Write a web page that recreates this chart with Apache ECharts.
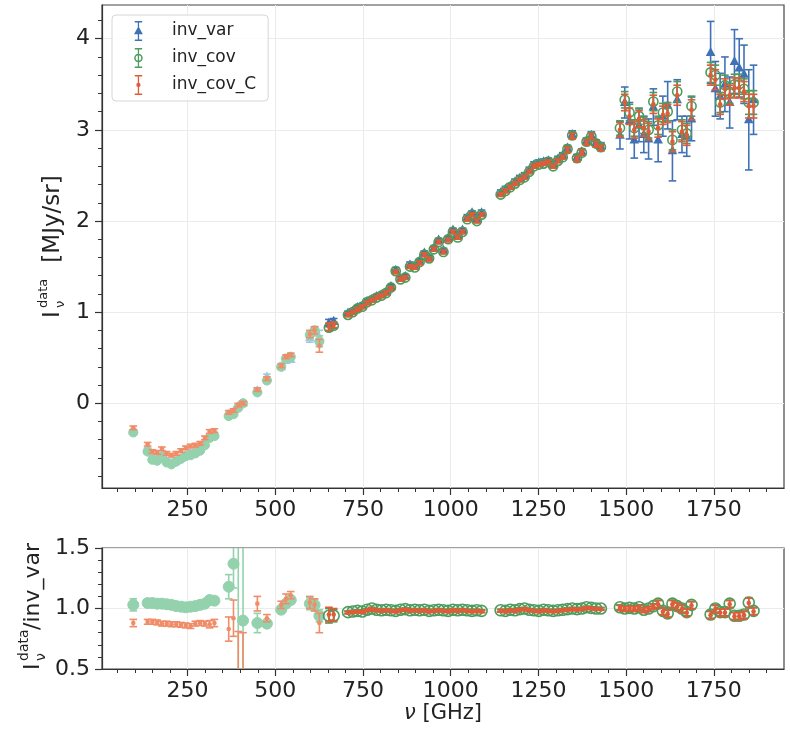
<!DOCTYPE html>
<html>
<head>
<meta charset="utf-8">
<script src="https://cdn.jsdelivr.net/npm/echarts@6/dist/echarts.min.js"></script>
<style>
html, body { margin: 0; padding: 0; background: #fff; }
#chart { width: 790px; height: 734px; }
</style>
</head>
<body>
<div id="chart"></div>
<script>
// frequencies [GHz]
const freq = [
  95.2, 136.0, 149.6, 163.2, 176.8, 190.4, 204.0, 217.6, 231.2, 244.8, 258.4, 272.0, 285.6, 299.2, 312.8, 326.4,
  367.2, 380.8, 394.4, 408.0,
  448.8, 476.0, 516.8, 530.4, 544.0, 598.4, 612.0, 625.6, 652.8, 666.4,
  707.2, 720.8, 734.4, 748.0, 761.6, 775.2, 788.8, 802.4, 816.0, 829.6, 843.2, 856.8, 870.4, 884.0, 897.6,
  911.2, 924.8, 938.4, 952.0, 965.6, 979.2, 992.8, 1006.4, 1020.0, 1033.6, 1047.2, 1060.8, 1074.4, 1088.0,
  1142.4, 1156.0, 1169.6, 1183.2, 1196.8, 1210.4, 1224.0, 1237.6, 1251.2, 1264.8, 1278.4, 1292.0, 1305.6,
  1319.2, 1332.8, 1346.4, 1360.0, 1373.6, 1387.2, 1400.8, 1414.4, 1428.0,
  1482.4, 1496.0, 1509.6, 1523.2, 1536.8, 1550.4, 1564.0, 1577.6, 1591.2, 1604.8, 1618.4, 1632.0, 1645.6,
  1659.2, 1672.8, 1686.4,
  1740.8, 1754.4, 1768.0, 1781.6, 1795.2, 1808.8, 1822.4, 1836.0, 1849.6, 1863.2
];

// top panel: I_nu [MJy/sr]
const invVar = [
  -0.31, -0.51, -0.60, -0.61, -0.57, -0.63, -0.66, -0.63, -0.60, -0.57, -0.55, -0.53, -0.50, -0.44, -0.36, -0.34,
  -0.12, -0.09, -0.03, 0.00,
  0.14, 0.29, 0.40, 0.47, 0.48, 0.72, 0.78, 0.72, 0.88, 0.90,
  0.99, 1.01, 1.05, 1.07, 1.12, 1.14, 1.17, 1.19, 1.22, 1.28, 1.46, 1.37, 1.39, 1.52, 1.50,
  1.56, 1.65, 1.60, 1.70, 1.79, 1.68, 1.81, 1.90, 1.84, 1.90, 2.04, 2.09, 2.02, 2.09,
  2.31, 2.35, 2.38, 2.43, 2.47, 2.50, 2.56, 2.62, 2.64, 2.65, 2.66, 2.62, 2.68,
  2.72, 2.80, 2.95, 2.70, 2.76, 2.88, 2.94, 2.86, 2.82,
  2.94, 3.30, 3.10, 2.89, 3.05, 2.95, 2.90, 3.25, 2.89, 3.15, 3.27, 2.77, 3.33,
  2.95, 2.93, 3.12,
  3.85, 3.45, 3.37, 3.50, 3.30, 3.75, 3.68, 3.61, 3.11, 3.33
];
const invVarErr = [
  0.02, 0.02, 0.02, 0.02, 0.02, 0.02, 0.02, 0.02, 0.02, 0.02, 0.02, 0.02, 0.02, 0.02, 0.02, 0.02,
  0.02, 0.02, 0.02, 0.02,
  0.02, 0.03, 0.02, 0.02, 0.02, 0.05, 0.04, 0.08, 0.04, 0.03,
  0.02, 0.02, 0.02, 0.02, 0.02, 0.02, 0.02, 0.02, 0.02, 0.02, 0.03, 0.02, 0.02, 0.03, 0.02,
  0.02, 0.02, 0.02, 0.02, 0.02, 0.02, 0.02, 0.02, 0.02, 0.02, 0.03, 0.02, 0.02, 0.03,
  0.03, 0.03, 0.03, 0.03, 0.03, 0.03, 0.03, 0.03, 0.03, 0.03, 0.03, 0.03, 0.03,
  0.03, 0.03, 0.04, 0.03, 0.03, 0.03, 0.04, 0.03, 0.04,
  0.15, 0.17, 0.20, 0.20, 0.18, 0.20, 0.22, 0.20, 0.24, 0.22, 0.26, 0.33, 0.22,
  0.20, 0.22, 0.24,
  0.34, 0.30, 0.25, 0.30, 0.28, 0.35, 0.32, 0.32, 0.55, 0.38
];
const invCov = [
  -0.32, -0.53, -0.62, -0.63, -0.59, -0.65, -0.67, -0.64, -0.61, -0.58, -0.57, -0.55, -0.52, -0.46, -0.38, -0.36,
  -0.14, -0.12, -0.05, 0.00,
  0.12, 0.25, 0.40, 0.49, 0.51, 0.75, 0.80, 0.68, 0.83, 0.85,
  0.97, 1.00, 1.04, 1.06, 1.11, 1.13, 1.16, 1.18, 1.21, 1.27, 1.45, 1.36, 1.38, 1.50, 1.49,
  1.55, 1.63, 1.59, 1.69, 1.77, 1.66, 1.80, 1.88, 1.82, 1.88, 2.02, 2.07, 2.00, 2.07,
  2.29, 2.33, 2.37, 2.41, 2.45, 2.48, 2.54, 2.60, 2.62, 2.63, 2.65, 2.60, 2.66,
  2.70, 2.79, 2.94, 2.69, 2.75, 2.87, 2.93, 2.85, 2.81,
  3.02, 3.33, 3.19, 3.02, 3.15, 3.05, 3.00, 3.31, 3.05, 3.19, 3.20, 2.89, 3.42,
  3.00, 2.96, 3.26,
  3.63, 3.60, 3.30, 3.49, 3.40, 3.50, 3.50, 3.45, 3.30, 3.30
];
const invCovErr = [
  0.02, 0.02, 0.02, 0.02, 0.02, 0.02, 0.02, 0.02, 0.02, 0.02, 0.02, 0.02, 0.02, 0.02, 0.02, 0.02,
  0.02, 0.02, 0.02, 0.02,
  0.02, 0.02, 0.02, 0.02, 0.02, 0.04, 0.04, 0.06, 0.04, 0.03,
  0.02, 0.02, 0.02, 0.02, 0.02, 0.02, 0.02, 0.02, 0.02, 0.02, 0.02, 0.02, 0.02, 0.02, 0.02,
  0.02, 0.02, 0.02, 0.02, 0.02, 0.02, 0.02, 0.02, 0.02, 0.02, 0.02, 0.02, 0.02, 0.02,
  0.02, 0.02, 0.02, 0.02, 0.02, 0.02, 0.02, 0.02, 0.02, 0.02, 0.02, 0.02, 0.02,
  0.02, 0.03, 0.03, 0.03, 0.03, 0.03, 0.03, 0.03, 0.03,
  0.08, 0.09, 0.09, 0.09, 0.09, 0.09, 0.09, 0.10, 0.10, 0.10, 0.10, 0.11, 0.11,
  0.11, 0.11, 0.11,
  0.11, 0.11, 0.11, 0.11, 0.11, 0.11, 0.11, 0.11, 0.13, 0.13
];
const invCovC = [
  -0.27, -0.45, -0.53, -0.54, -0.50, -0.55, -0.57, -0.55, -0.52, -0.49, -0.47, -0.46, -0.44, -0.38, -0.31, -0.30,
  -0.10, -0.08, -0.02, 0.00,
  0.15, 0.27, 0.41, 0.51, 0.53, 0.76, 0.80, 0.63, 0.84, 0.86,
  0.97, 1.00, 1.03, 1.06, 1.10, 1.13, 1.16, 1.18, 1.21, 1.26, 1.44, 1.36, 1.38, 1.50, 1.49,
  1.54, 1.63, 1.58, 1.69, 1.77, 1.66, 1.79, 1.88, 1.82, 1.88, 2.02, 2.07, 2.00, 2.07,
  2.29, 2.33, 2.37, 2.41, 2.45, 2.48, 2.54, 2.60, 2.62, 2.63, 2.65, 2.60, 2.66,
  2.70, 2.78, 2.93, 2.68, 2.75, 2.86, 2.93, 2.84, 2.80,
  3.00, 3.30, 3.15, 3.00, 3.12, 3.02, 2.98, 3.28, 3.02, 3.16, 3.18, 2.87, 3.38,
  2.98, 2.94, 3.22,
  3.60, 3.55, 3.28, 3.45, 3.38, 3.46, 3.46, 3.42, 3.26, 3.26
];
const invCovCErr = [
  0.02, 0.02, 0.02, 0.02, 0.02, 0.02, 0.02, 0.02, 0.02, 0.02, 0.02, 0.02, 0.02, 0.02, 0.02, 0.02,
  0.02, 0.02, 0.02, 0.02,
  0.02, 0.02, 0.02, 0.02, 0.02, 0.04, 0.04, 0.07, 0.04, 0.03,
  0.02, 0.02, 0.02, 0.02, 0.02, 0.02, 0.02, 0.02, 0.02, 0.02, 0.02, 0.02, 0.02, 0.02, 0.02,
  0.02, 0.02, 0.02, 0.02, 0.02, 0.02, 0.02, 0.02, 0.02, 0.02, 0.02, 0.02, 0.02, 0.02,
  0.02, 0.02, 0.02, 0.02, 0.02, 0.02, 0.02, 0.02, 0.02, 0.02, 0.02, 0.02, 0.02,
  0.02, 0.03, 0.03, 0.03, 0.03, 0.03, 0.03, 0.03, 0.03,
  0.08, 0.09, 0.09, 0.09, 0.09, 0.09, 0.09, 0.10, 0.10, 0.10, 0.10, 0.11, 0.11,
  0.11, 0.11, 0.11,
  0.11, 0.11, 0.11, 0.11, 0.11, 0.11, 0.11, 0.11, 0.13, 0.13
];

// bottom panel: ratio to inv_var
const ratioCov = [
  1.03, 1.045, 1.045, 1.04, 1.04, 1.035, 1.03, 1.02, 1.015, 1.01, 1.015, 1.02, 1.03, 1.04, 1.07, 1.065,
  1.18, 1.37, 1.80, 0.90,
  0.88, 0.875, 0.99, 1.04, 1.07, 1.04, 1.03, 0.94, 0.94, 0.94,
  0.97, 0.975, 0.98, 0.975, 0.99, 1.00, 0.99, 0.985, 0.99, 0.985, 0.98, 0.99, 0.995, 0.985, 0.99,
  0.985, 0.99, 0.98, 0.985, 0.99, 0.985, 0.98, 0.99, 0.985, 0.99, 0.985, 0.98, 0.985, 0.98,
  0.985, 0.98, 0.99, 0.985, 0.995, 1.00, 0.99, 0.985, 0.98, 0.99, 0.985, 0.98, 0.985,
  0.99, 0.995, 1.00, 0.995, 1.00, 1.01, 1.005, 1.00, 1.00,
  1.01, 1.00, 1.005, 1.00, 1.01, 0.99, 1.00, 1.02, 1.04, 0.98, 0.96, 1.04, 1.02,
  1.00, 0.97, 1.03,
  0.95, 1.00, 0.97, 0.97, 1.04, 0.94, 0.94, 0.95, 1.05, 0.98
];
const ratioCovErr = [
  0.05, 0.02, 0.02, 0.02, 0.02, 0.02, 0.02, 0.02, 0.02, 0.02, 0.02, 0.02, 0.02, 0.02, 0.03, 0.03,
  0.10, 0.20, 1.50, 2.00,
  0.08, 0.03, 0.03, 0.03, 0.03, 0.05, 0.05, 0.05, 0.06, 0.05,
  0.01, 0.01, 0.01, 0.01, 0.01, 0.01, 0.01, 0.01, 0.01, 0.01, 0.01, 0.01, 0.01, 0.01, 0.01,
  0.01, 0.01, 0.01, 0.01, 0.01, 0.01, 0.01, 0.01, 0.01, 0.01, 0.01, 0.01, 0.01, 0.01,
  0.01, 0.01, 0.01, 0.01, 0.01, 0.01, 0.01, 0.01, 0.01, 0.01, 0.01, 0.01, 0.01,
  0.01, 0.01, 0.01, 0.01, 0.01, 0.01, 0.01, 0.01, 0.01,
  0.02, 0.02, 0.02, 0.02, 0.02, 0.02, 0.02, 0.02, 0.03, 0.03, 0.03, 0.03, 0.03,
  0.03, 0.03, 0.03,
  0.03, 0.03, 0.03, 0.03, 0.03, 0.03, 0.03, 0.03, 0.04, 0.03
];
const ratioCovC = [
  0.88, 0.89, 0.89, 0.885, 0.875, 0.875, 0.87, 0.87, 0.865, 0.86, 0.855, 0.875, 0.88, 0.875, 0.87, 0.88,
  0.83, 0.92, 0.45, 0.40,
  1.04, 0.92, 1.03, 1.08, 1.11, 1.05, 1.03, 0.88, 0.95, 0.95,
  0.965, 0.97, 0.975, 0.97, 0.985, 0.995, 0.985, 0.98, 0.985, 0.98, 0.975, 0.985, 0.99, 0.98, 0.985,
  0.98, 0.985, 0.975, 0.98, 0.985, 0.98, 0.975, 0.985, 0.98, 0.985, 0.98, 0.975, 0.98, 0.975,
  0.98, 0.975, 0.985, 0.98, 0.99, 0.995, 0.985, 0.98, 0.975, 0.985, 0.98, 0.975, 0.98,
  0.985, 0.99, 0.995, 0.99, 0.995, 1.005, 1.00, 0.995, 0.995,
  1.005, 0.995, 1.00, 0.995, 1.005, 0.985, 0.995, 1.015, 1.035, 0.975, 0.955, 1.035, 1.015,
  0.995, 0.965, 1.025,
  0.945, 0.995, 0.965, 0.965, 1.035, 0.935, 0.935, 0.945, 1.045, 0.975
];
const ratioCovCErr = [
  0.03, 0.02, 0.02, 0.02, 0.02, 0.02, 0.02, 0.02, 0.02, 0.02, 0.02, 0.02, 0.02, 0.02, 0.03, 0.03,
  0.10, 0.15, 0.36, 0.40,
  0.06, 0.03, 0.03, 0.04, 0.03, 0.05, 0.05, 0.08, 0.06, 0.05,
  0.01, 0.01, 0.01, 0.01, 0.01, 0.01, 0.01, 0.01, 0.01, 0.01, 0.01, 0.01, 0.01, 0.01, 0.01,
  0.01, 0.01, 0.01, 0.01, 0.01, 0.01, 0.01, 0.01, 0.01, 0.01, 0.01, 0.01, 0.01, 0.01,
  0.01, 0.01, 0.01, 0.01, 0.01, 0.01, 0.01, 0.01, 0.01, 0.01, 0.01, 0.01, 0.01,
  0.01, 0.01, 0.01, 0.01, 0.01, 0.01, 0.01, 0.01, 0.01,
  0.02, 0.02, 0.02, 0.02, 0.02, 0.02, 0.02, 0.02, 0.03, 0.03, 0.03, 0.03, 0.03,
  0.03, 0.03, 0.03,
  0.03, 0.03, 0.03, 0.03, 0.03, 0.03, 0.03, 0.03, 0.04, 0.03
];

// ticks
const xTicks = [250, 500, 750, 1000, 1250, 1500, 1750];
const xMinorTicks = [50, 100, 150, 200, 300, 350, 400, 450, 550, 600, 650, 700, 800, 850, 900, 950,
  1050, 1100, 1150, 1200, 1300, 1350, 1400, 1450, 1550, 1600, 1650, 1700, 1800, 1850, 1900];
const yTicksTop = [0, 1, 2, 3, 4];
const yMinorTop = [-0.8, -0.6, -0.4, -0.2, 0.2, 0.4, 0.6, 0.8, 1.2, 1.4, 1.6, 1.8, 2.2, 2.4, 2.6, 2.8,
  3.2, 3.4, 3.6, 3.8, 4.2];
const yMinorBottom = [0.6, 0.7, 0.8, 0.9, 1.1, 1.2, 1.3, 1.4];

const MASK_BELOW = 640; // lighter colours for the low-frequency channels
const BLUE = ['#3f72b5', '#a3c6e6'];
const GREEN = ['#4c9c5c', '#93d2ad'];
const RED = ['#e05c38', '#f08c68'];
const FONT = 'DejaVu Sans';
const TXT = '#222';
const AX = '#333';

function marker(kind, p, col, light, big) {
  if (kind === 'tri') {
    return { type: 'polygon', shape: { points: [[p[0], p[1] - 5.5], [p[0] + 4.8, p[1] + 3.5], [p[0] - 4.8, p[1] + 3.5]] },
      style: { fill: col } };
  }
  if (kind === 'ring') {
    const r = big ? 5.5 : 4.6;
    return { type: 'circle', shape: { cx: p[0], cy: p[1], r: r },
      style: light ? { fill: col, stroke: col, lineWidth: 1 } : { fill: 'none', stroke: col, lineWidth: 1.6 } };
  }
  return { type: 'circle', shape: { cx: p[0], cy: p[1], r: 2.3 }, style: { fill: col } };
}

function errRender(kind, pal, big) {
  return function (params, api) {
    const cs = params.coordSys;
    const f = api.value(0), v = api.value(1), e = api.value(2);
    const light = f < MASK_BELOW;
    const col = light ? pal[1] : pal[0];
    const p = api.coord([f, v]);
    const yHi = api.coord([f, v + e])[1];
    const yLo = api.coord([f, v - e])[1];
    const top = cs.y, bottom = cs.y + cs.height;
    const ln = { stroke: col, lineWidth: 1.6 };
    const kids = [];
    const a = Math.max(top, Math.min(bottom, yHi));
    const b = Math.max(top, Math.min(bottom, yLo));
    if (b > a) kids.push({ type: 'line', shape: { x1: p[0], y1: a, x2: p[0], y2: b }, style: ln });
    [yHi, yLo].forEach(function (yy) {
      if (yy >= top && yy <= bottom) {
        kids.push({ type: 'line', shape: { x1: p[0] - 3.8, y1: yy, x2: p[0] + 3.8, y2: yy }, style: ln });
      }
    });
    if (p[1] >= top && p[1] <= bottom) kids.push(marker(kind, p, col, light, big));
    return { type: 'group', children: kids };
  };
}

function rows(vals, errs) {
  return freq.map(function (f, i) { return [f, vals[i], errs[i]]; });
}

function majorX(grid) {
  return {
    type: 'value', gridIndex: grid, position: 'bottom', min: 6, max: 1950,
    axisLine: { onZero: false, lineStyle: { color: AX, width: 1.2 } },
    axisTick: { customValues: xTicks, length: 7, lineStyle: { color: AX, width: 1.2 } },
    axisLabel: { customValues: xTicks, color: TXT, fontFamily: FONT, fontSize: 22, margin: 11,
      formatter: function (v) { return String(v); } },
    splitLine: { show: true, lineStyle: { color: '#ebebeb', width: 1 } }
  };
}
function minorX(grid) {
  return {
    type: 'value', gridIndex: grid, position: 'bottom', min: 6, max: 1950,
    axisLine: { show: false, onZero: false },
    axisTick: { customValues: xMinorTicks, length: 4, lineStyle: { color: AX, width: 1 } },
    axisLabel: { show: false }, splitLine: { show: false }
  };
}

const chart = echarts.init(document.getElementById('chart'), null, { renderer: 'canvas' });

const option = {
  backgroundColor: '#fff',
  animation: false,
  grid: [
    { left: 102, top: 5, width: 682, height: 483, show: true, borderColor: '#444', borderWidth: 1.2, backgroundColor: 'transparent' },
    { left: 102, top: 548, width: 682, height: 121, show: true, borderColor: '#444', borderWidth: 1.2, backgroundColor: 'transparent' }
  ],
  legend: {
    orient: 'vertical', left: 112, top: 15,
    padding: [6, 12, 6, 22], itemGap: 7, itemWidth: 9, itemHeight: 20,
    backgroundColor: 'rgba(255,255,255,0.85)', borderColor: '#d6d6d6', borderWidth: 1, borderRadius: 4,
    textStyle: { fontFamily: FONT, fontSize: 17, color: TXT, padding: [0, 0, 0, 24] },
    data: [
      { name: 'inv_var', icon: 'path://M2,1.2L10,1.2L10,2.8L2,2.8Z M5.3,2L6.7,2L6.7,22L5.3,22Z M2,21.2L10,21.2L10,22.8L2,22.8Z M6,7L10.8,15.5L1.2,15.5Z' },
      { name: 'inv_cov', icon: 'path://M2,1.2L10,1.2L10,2.8L2,2.8Z M5.3,2L6.7,2L6.7,22L5.3,22Z M2,21.2L10,21.2L10,22.8L2,22.8Z M1.4,12A4.6,4.6 0 1,1 10.6,12A4.6,4.6 0 1,1 1.4,12Z M3,12A3,3 0 1,0 9,12A3,3 0 1,0 3,12Z' },
      { name: 'inv_cov_C', icon: 'path://M2,1.2L10,1.2L10,2.8L2,2.8Z M5.3,2L6.7,2L6.7,22L5.3,22Z M2,21.2L10,21.2L10,22.8L2,22.8Z M3.7,12A2.3,2.3 0 1,1 8.3,12A2.3,2.3 0 1,1 3.7,12Z' }
    ]
  },
  xAxis: [majorX(0), minorX(0), majorX(1), minorX(1)],
  yAxis: [
    { type: 'value', gridIndex: 0, position: 'left', min: -0.93, max: 4.37,
      axisLine: { lineStyle: { color: AX, width: 1.2 } },
      axisTick: { customValues: yTicksTop, length: 7, lineStyle: { color: AX, width: 1.2 } },
      axisLabel: { customValues: yTicksTop, color: TXT, fontFamily: FONT, fontSize: 22, margin: 12 },
      splitLine: { show: true, lineStyle: { color: '#ebebeb', width: 1 } } },
    { type: 'value', gridIndex: 0, position: 'left', min: -0.93, max: 4.37,
      axisLine: { show: false },
      axisTick: { customValues: yMinorTop, length: 4, lineStyle: { color: AX, width: 1 } },
      axisLabel: { show: false }, splitLine: { show: false } },
    { type: 'value', gridIndex: 1, position: 'left', min: 0.5, max: 1.5, interval: 0.5,
      axisLine: { lineStyle: { color: AX, width: 1.2 } },
      axisTick: { length: 7, lineStyle: { color: AX, width: 1.2 } },
      axisLabel: { color: TXT, fontFamily: FONT, fontSize: 22, margin: 12, formatter: function (v) { return v.toFixed(1); } },
      splitLine: { show: true, lineStyle: { color: '#ebebeb', width: 1 } } },
    { type: 'value', gridIndex: 1, position: 'left', min: 0.5, max: 1.5,
      axisLine: { show: false },
      axisTick: { customValues: yMinorBottom, length: 4, lineStyle: { color: AX, width: 1 } },
      axisLabel: { show: false }, splitLine: { show: false } }
  ],
  series: [
    { name: 'inv_var', type: 'custom', xAxisIndex: 0, yAxisIndex: 0, itemStyle: { color: BLUE[0] },
      renderItem: errRender('tri', BLUE), encode: { x: 0, y: 1 }, data: rows(invVar, invVarErr), z: 2 },
    { name: 'inv_cov', type: 'custom', xAxisIndex: 0, yAxisIndex: 0, itemStyle: { color: GREEN[0] },
      renderItem: errRender('ring', GREEN), encode: { x: 0, y: 1 }, data: rows(invCov, invCovErr), z: 3 },
    { name: 'inv_cov_C', type: 'custom', xAxisIndex: 0, yAxisIndex: 0, itemStyle: { color: RED[0] },
      renderItem: errRender('dot', RED), encode: { x: 0, y: 1 }, data: rows(invCovC, invCovCErr), z: 4 },
    { name: 'ratio_cov', type: 'custom', xAxisIndex: 2, yAxisIndex: 2, itemStyle: { color: GREEN[0] },
      renderItem: errRender('ring', GREEN, true), encode: { x: 0, y: 1 }, data: rows(ratioCov, ratioCovErr), z: 3 },
    { name: 'ratio_cov_C', type: 'custom', xAxisIndex: 2, yAxisIndex: 2, itemStyle: { color: RED[0] },
      renderItem: errRender('dot', RED), encode: { x: 0, y: 1 }, data: rows(ratioCovC, ratioCovCErr), z: 4 }
  ],
  graphic: [
    { type: 'group', x: 53, y: 318, rotation: Math.PI / 2, children: [
      { type: 'text', x: 0, y: 0, style: { text: 'I', font: '23px "DejaVu Sans"', fill: TXT, verticalAlign: 'middle' } },
      { type: 'text', x: 10, y: -9, style: { text: 'data', font: '13px "DejaVu Sans"', fill: TXT, verticalAlign: 'middle' } },
      { type: 'text', x: 10, y: 8, style: { text: 'ν', font: '13px "DejaVu Sans"', fill: TXT, verticalAlign: 'middle' } },
      { type: 'text', x: 48, y: 0, style: { text: ' [MJy/sr]', font: '23px "DejaVu Sans"', fill: TXT, verticalAlign: 'middle' } }
    ] },
    { type: 'group', x: 33, y: 670, rotation: Math.PI / 2, children: [
      { type: 'text', x: 0, y: 0, style: { text: 'I', font: '22px "DejaVu Sans"', fill: TXT, verticalAlign: 'middle' } },
      { type: 'text', x: 9, y: -9, style: { text: 'data', font: '14px "DejaVu Sans"', fill: TXT, verticalAlign: 'middle' } },
      { type: 'text', x: 9, y: 8, style: { text: 'ν', font: '14px "DejaVu Sans"', fill: TXT, verticalAlign: 'middle' } },
      { type: 'text', x: 40, y: 0, style: { text: '/inv_var', font: '22px "DejaVu Sans"', fill: TXT, verticalAlign: 'middle' } }
    ] },
    { type: 'text', x: 443, y: 714, style: {
      text: '{i|ν} [GHz]', font: '21px "DejaVu Sans"', fill: TXT, align: 'center', verticalAlign: 'middle',
      rich: { i: { fontFamily: FONT, fontSize: 21, fontStyle: 'italic', fill: TXT } } } }
  ]
};

chart.setOption(option);
</script>
</body>
</html>
